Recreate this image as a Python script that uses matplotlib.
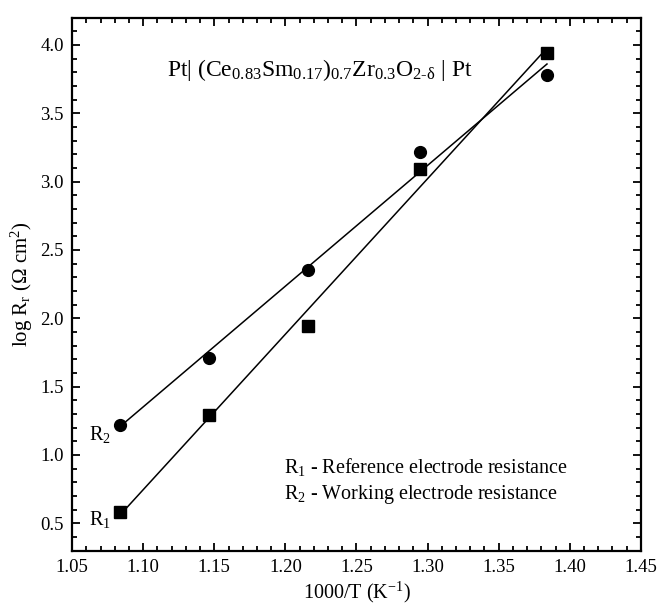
import matplotlib
matplotlib.use("Agg")
import matplotlib.pyplot as plt
import numpy as np
from matplotlib.ticker import MultipleLocator

# data
inv_temp = [1.084, 1.146, 1.216, 1.295, 1.384]     # 1000/T (K^-1)
log_r1 = [0.58, 1.29, 1.94, 3.09, 3.94]            # reference electrode
log_r2 = [1.22, 1.71, 2.35, 3.22, 3.78]            # working electrode

x_ticks = [1.05, 1.10, 1.15, 1.20, 1.25, 1.30, 1.35, 1.40, 1.45]
y_ticks = [0.5, 1.0, 1.5, 2.0, 2.5, 3.0, 3.5, 4.0]

plt.rcParams["font.family"] = ["Liberation Serif", "DejaVu Serif"]
plt.rcParams["mathtext.fontset"] = "custom"
plt.rcParams["mathtext.rm"] = "Liberation Serif"
plt.rcParams["mathtext.it"] = "Liberation Serif:italic"
plt.rcParams["mathtext.default"] = "rm"

fig = plt.figure(figsize=(6.62, 6.09), dpi=100)
ax = fig.add_axes([0.109, 0.096, 0.859, 0.875])

x = np.array(inv_temp)
for y, marker in [(log_r1, "s"), (log_r2, "o")]:
    # straight-line fit through each series
    k, b = np.polyfit(x, y, 1)
    ax.plot(x, k * x + b, color="black", linewidth=1.1)
    ax.plot(x, y, marker, color="black", markersize=8.5, linestyle="none")

ax.set_xlim(1.05, 1.45)
ax.set_ylim(0.3, 4.2)
ax.set_xticks(x_ticks)
ax.set_xticklabels([f"{v:.2f}" for v in x_ticks])
ax.set_yticks(y_ticks)
ax.set_yticklabels([f"{v:.1f}" for v in y_ticks])
ax.xaxis.set_minor_locator(MultipleLocator(0.01))
ax.yaxis.set_minor_locator(MultipleLocator(0.1))
ax.tick_params(which="both", direction="in", top=True, right=True, width=1.3,
               labelsize=13.5)
ax.tick_params(which="major", length=6, pad=6)
ax.tick_params(which="minor", length=3.5)
for s in ax.spines.values():
    s.set_linewidth(1.6)

ax.set_xlabel("1000/T (K$^{-1}$)", fontsize=14.5, labelpad=3)
ax.set_ylabel("log R$_{r}$ ($\\Omega$ cm$^{2}$)", fontsize=15, labelpad=4)

ax.text(1.224, 3.82,
        "Pt| (Ce$_{0.83}$Sm$_{0.17}$)$_{0.7}$Zr$_{0.3}$O$_{2\\text{-}\\delta}$ | Pt",
        ha="center", va="center", fontsize=17)
ax.text(1.199, 0.91, "R$_1$ - Reference electrode resistance", fontsize=14.5,
        va="center")
ax.text(1.199, 0.71, "R$_2$ - Working electrode resistance", fontsize=14.5,
        va="center")
ax.text(1.077, 1.15, "R$_2$", fontsize=14.5, ha="right", va="center")
ax.text(1.077, 0.53, "R$_1$", fontsize=14.5, ha="right", va="center")

fig.savefig("out.png", dpi=100)
